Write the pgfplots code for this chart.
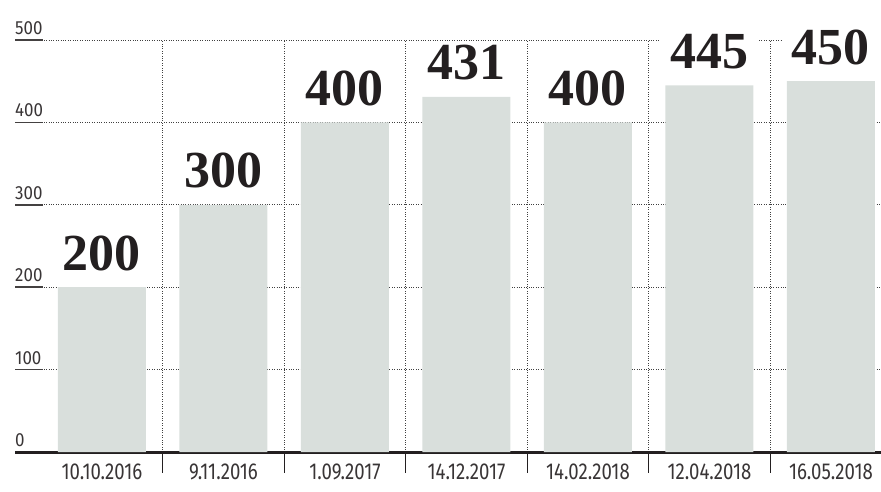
\documentclass[border=0pt]{standalone}
\usepackage{pgfplots}
\pgfplotsset{compat=1.18}
\usepackage{graphicx}
\usepackage{fontspec}
\setmainfont{Fira Sans}
\newfontfamily\tickfont{Fira Sans}
\newfontfamily\valfont{Liberation Serif}
\definecolor{barc}{RGB}{217,223,220}
\definecolor{txt}{RGB}{35,31,32}
\newcommand\xl[1]{\scalebox{0.81}[1]{\tickfont\fontsize{23}{25}\selectfont #1}}
\newcommand\yl[1]{\scalebox{0.89}[1]{\tickfont\fontsize{19}{21}\selectfont #1}}
\begin{document}
\begin{tikzpicture}[x=1pt,y=1pt]
\path[use as bounding box] (0,0) rectangle (881,491);
\begin{axis}[
  at={(15pt,39pt)}, anchor=south west,
  scale only axis, width=866pt, height=412pt,
  xmin=-0.716, xmax=6.412, ymin=0, ymax=500,
  clip=false,
  /pgf/number format/assume math mode=true,
  axis x line*=bottom, axis y line*=left,
  axis line style={-},
  x axis line style={line width=3pt, color=txt},
  y axis line style={draw=none},
  xtick={0,...,6},
  xticklabels={\xl{10.10.2016},\xl{9.11.2016},\xl{1.09.2017},\xl{14.12.2017},\xl{14.02.2018},\xl{12.04.2018},\xl{16.05.2018}},
  xtick style={draw=none},
  xticklabel style={text=txt!90, anchor=north, inner sep=0pt, yshift=-12pt},
  extra x ticks={0.5,1.5,2.5,3.5,4.5,5.5},
  extra x tick labels={},
  extra x tick style={grid=major, major grid style={dotted, line width=0.7pt, color=black!75}, tick style={draw=none}},
  ytick={0,100,...,500},
  yticklabel={\yl{\pgfmathprintnumber{\tick}}},
  ytick pos=left,
  tick align=inside,
  major tick length=28pt,
  ytick style={line width=1.6pt, color=txt!85},
  ymajorgrids,
  y grid style={dotted, line width=0.7pt, color=black!75},
  yticklabel style={text=txt!90, anchor=south west, inner sep=0pt, yshift=5pt},
]
\addplot[ybar, bar width=88pt, fill=barc, draw=none,
  nodes near coords,
  nodes near coords style={font=\valfont\bfseries\fontsize{52}{52}\selectfont, text=txt, anchor=base, yshift=17pt, fill=white, inner xsep=10pt, inner ysep=2pt}]
  coordinates {(0,200) (1,300) (2,400) (3,431) (4,400) (5,445) (6,450)};
\addplot[ycomb, mark=none, draw=txt, line width=1.2pt]
  coordinates {(0.5,-25.5) (1.5,-25.5) (2.5,-25.5) (3.5,-25.5) (4.5,-25.5) (5.5,-25.5)};
\end{axis}
\end{tikzpicture}
\end{document}
